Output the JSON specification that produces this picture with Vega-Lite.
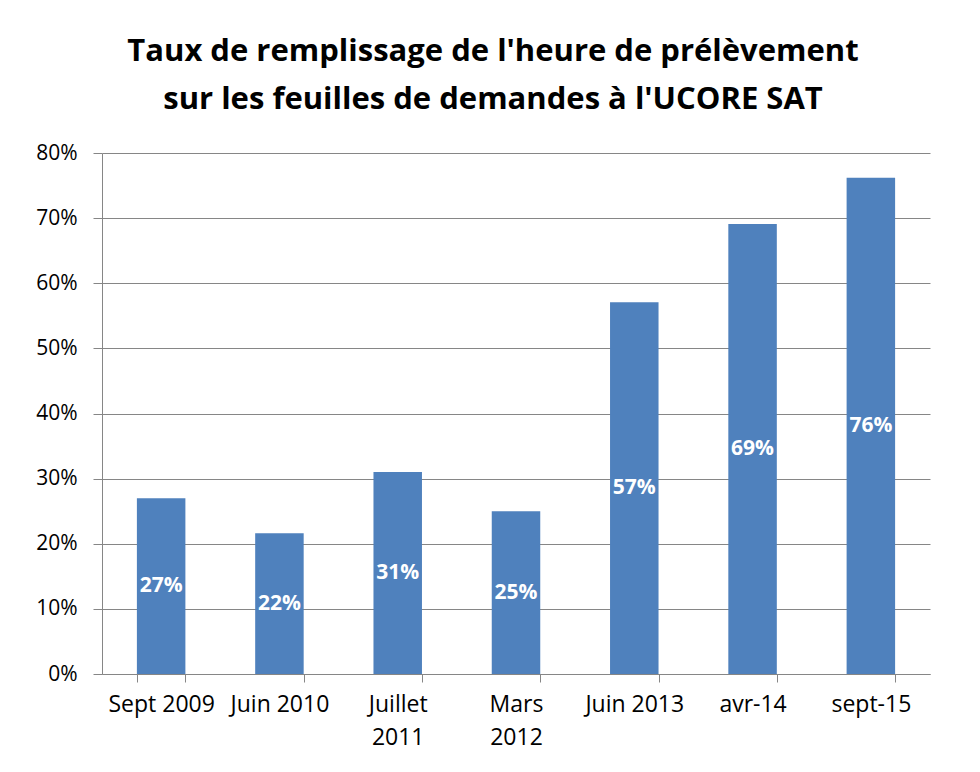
{
  "$schema": "https://vega.github.io/schema/vega-lite/v6.json",
  "autosize": "none",
  "padding": {"left": 102, "top": 153, "right": 50, "bottom": 98},
  "width": 828,
  "height": 521,
  "background": "white",
  "title": {
    "text": ["Taux de remplissage de l'heure de prélèvement", "sur les feuilles de demandes à l'UCORE SAT"],
    "font": "Open Sans",
    "fontSize": 31,
    "fontWeight": "bold",
    "color": "#000000",
    "lineHeight": 48,
    "anchor": "middle",
    "dx": -23,
    "offset": 26
  },
  "data": {
    "values": [
      {"periode": "Sept 2009", "taux": 0.27},
      {"periode": "Juin 2010", "taux": 0.216},
      {"periode": "Juillet 2011", "taux": 0.31},
      {"periode": "Mars 2012", "taux": 0.25},
      {"periode": "Juin 2013", "taux": 0.571},
      {"periode": "avr-14", "taux": 0.691},
      {"periode": "sept-15", "taux": 0.762}
    ]
  },
  "encoding": {
    "x": {
      "field": "periode",
      "type": "nominal",
      "sort": null,
      "scale": {"paddingInner": 0.59, "paddingOuter": 0.295},
      "axis": {
        "title": null,
        "labelAngle": 0,
        "labelFont": "Open Sans",
        "labelFontSize": 23,
        "labelColor": "#000000",
        "labelPadding": 11,
        "labelLineHeight": 33,
        "labelBaseline": "top",
        "labelExpr": "datum.value == 'Juillet 2011' ? ['Juillet', '2011'] : datum.value == 'Mars 2012' ? ['Mars', '2012'] : datum.value",
        "tickBand": "extent",
        "tickSize": 8,
        "tickColor": "#868686",
        "domainColor": "#868686",
        "grid": false
      }
    }
  },
  "layer": [
    {
      "mark": {"type": "bar", "color": "#4F81BD"},
      "encoding": {
        "y": {
          "field": "taux",
          "type": "quantitative",
          "scale": {"domain": [0, 0.8]},
          "axis": {
            "title": null,
            "format": ".0%",
            "values": [0, 0.1, 0.2, 0.3, 0.4, 0.5, 0.6, 0.7, 0.8],
            "labelFont": "Open Sans",
            "labelFontSize": 21,
            "labelColor": "#000000",
            "labelPadding": 16,
            "tickSize": 9,
            "tickColor": "#868686",
            "domainColor": "#868686",
            "gridColor": "#868686",
            "gridWidth": 1
          }
        }
      }
    },
    {
      "mark": {"type": "text", "color": "white", "font": "Open Sans", "fontSize": 21, "fontWeight": "bold", "baseline": "middle"},
      "encoding": {
        "y": {
          "field": "taux",
          "type": "quantitative",
          "scale": {"domain": [0, 1.6]},
          "axis": null
        },
        "text": {"field": "taux", "type": "quantitative", "format": ".0%"}
      }
    }
  ],
  "resolve": {"scale": {"y": "independent"}},
  "config": {"view": {"stroke": null}}
}
